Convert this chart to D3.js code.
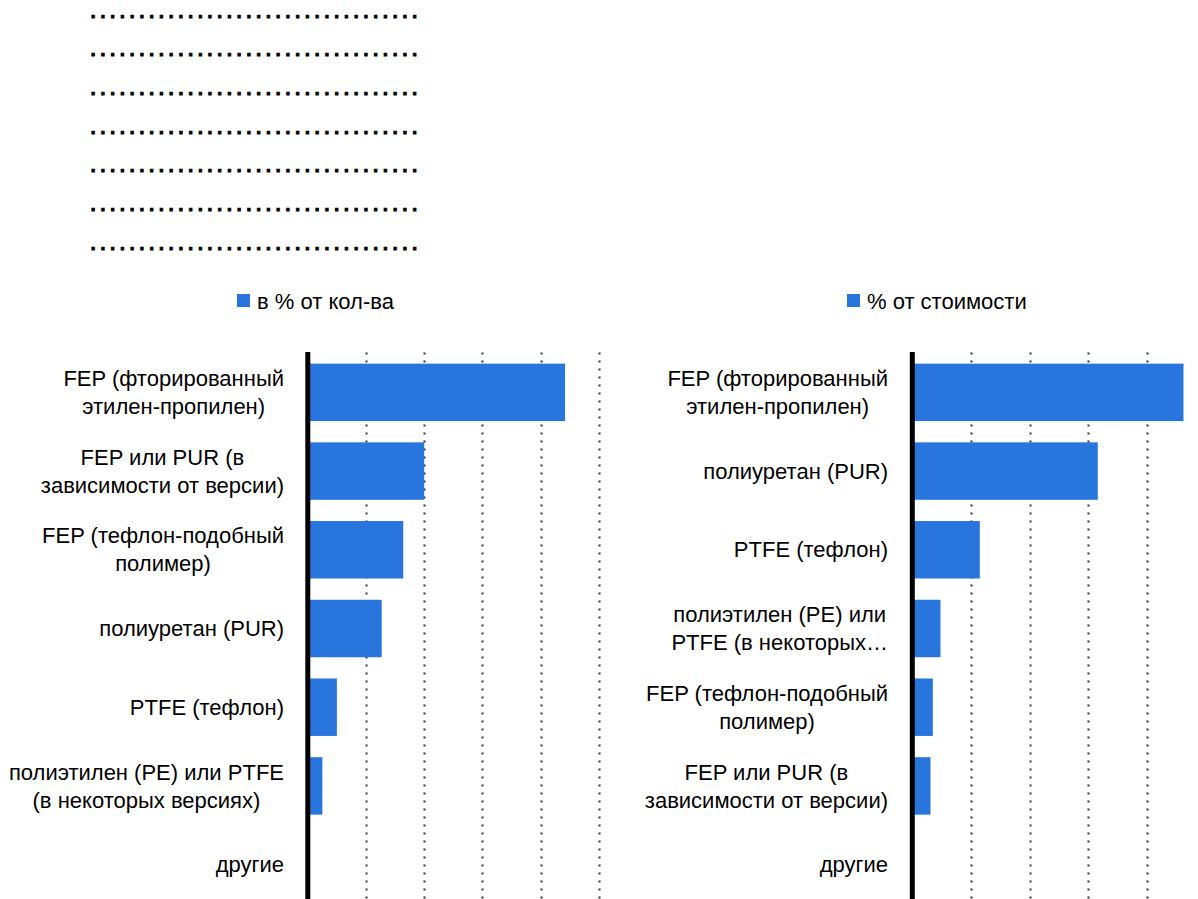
<!DOCTYPE html>
<html>
<head>
<meta charset="utf-8">
<script src="https://cdn.jsdelivr.net/npm/d3@7"></script>
<style>
  html, body { margin: 0; padding: 0; background: #fff; }
  svg { display: block; font-family: "Liberation Sans", Arial, sans-serif; }
</style>
</head>
<body>
<svg id="chart" width="1198" height="899"></svg>
<script>
// ---- data ----
const titleLines = [
  "..................................",
  "..................................",
  "..................................",
  "..................................",
  "..................................",
  "..................................",
  ".................................."
];
const seriesNames = ["в % от кол-ва", "% от стоимости"];
const categoriesLeft = [
  "FEP (фторированный\nэтилен-пропилен)",
  "FEP или PUR (в\nзависимости от версии)",
  "FEP (тефлон-подобный\nполимер)",
  "полиуретан (PUR)",
  "PTFE (тефлон)",
  "полиэтилен (PE) или PTFE\n(в некоторых версиях)",
  "другие"
];
const valuesLeft = [44.2, 20.0, 16.4, 12.7, 5.0, 2.5, 0];
const categoriesRight = [
  "FEP (фторированный\nэтилен-пропилен)",
  "полиуретан (PUR)",
  "PTFE (тефлон)",
  "полиэтилен (PE) или\nPTFE (в некоторых…",
  "FEP (тефлон-подобный\nполимер)",
  "FEP или PUR (в\nзависимости от версии)",
  "другие"
];
const valuesRight = [46.2, 31.6, 11.5, 4.8, 3.5, 3.1, 0];
const gridTicks = [10, 20, 30, 40, 50];
const xDomain = [0, 50];

// ---- drawing ----
const svg = d3.select("#chart");
const barColor = "#2876dd";
const fontSize = 22;

// dotted title placeholder lines
svg.append("g").selectAll("text")
  .data(titleLines)
  .join("text")
  .attr("x", 90.5)
  .attr("y", (d, i) => 17.6 + i * 38.7)
  .attr("font-size", 19)
  .attr("font-weight", "bold")
  .attr("letter-spacing", 4.46)
  .attr("fill", "#000")
  .attr("stroke", "#000")
  .attr("stroke-width", 0.8)
  .text(d => d);

function panel(cfg) {
  const g = svg.append("g");
  const x = d3.scaleLinear().domain(xDomain).range([cfg.x0, cfg.x0 + cfg.unit * 50]);
  const y = d3.scaleBand().domain(cfg.categories).range([353, 904])
    .paddingInner(0.27).paddingOuter(0.135);

  // gridlines
  g.append("g").selectAll("line")
    .data(gridTicks)
    .join("line")
    .attr("x1", d => Math.round(x(d)) + 0.5)
    .attr("x2", d => Math.round(x(d)) + 0.5)
    .attr("y1", 352.5)
    .attr("y2", 899)
    .attr("stroke", "#333")
    .attr("stroke-width", 2)
    .attr("stroke-dasharray", "2,6");

  // bars
  g.append("g").selectAll("rect")
    .data(cfg.categories.map((c, i) => ({ c, v: cfg.values[i] })))
    .join("rect")
    .attr("x", x(0))
    .attr("y", d => y(d.c))
    .attr("width", d => Math.max(0, x(d.v) - x(0)))
    .attr("height", y.bandwidth())
    .attr("fill", barColor);

  // axis line
  g.append("line")
    .attr("x1", x(0)).attr("x2", x(0))
    .attr("y1", 352).attr("y2", 899)
    .attr("stroke", "#000").attr("stroke-width", 5);

  // category labels (multi-line, centered lines, block right aligned)
  cfg.categories.forEach(c => {
    const lines = c.split("\n");
    const cy = y(c) + y.bandwidth() / 2;
    const t = g.append("text")
      .attr("font-size", fontSize)
      .attr("fill", "#000")
      .attr("text-anchor", "middle");
    const lh = 28;
    const spans = lines.map((ln, i) => t.append("tspan")
      .attr("y", cy + (i - (lines.length - 1) / 2) * lh + fontSize * 0.35)
      .text(ln));
    const maxW = d3.max(spans, s => s.node().getComputedTextLength());
    spans.forEach(s => s.attr("x", cfg.labelRight - maxW / 2));
  });

  // legend
  const lg = g.append("g");
  lg.append("rect")
    .attr("x", cfg.legendX).attr("y", 294)
    .attr("width", 13).attr("height", 13)
    .attr("fill", barColor);
  lg.append("text")
    .attr("x", cfg.legendX + 20).attr("y", 308.5)
    .attr("font-size", 22)
    .attr("fill", "#000")
    .text(cfg.name);
}

panel({ x0: 307.8, unit: 5.82, categories: categoriesLeft, values: valuesLeft,
        labelRight: 284, legendX: 237, name: seriesNames[0] });
panel({ x0: 912.3, unit: 5.87, categories: categoriesRight, values: valuesRight,
        labelRight: 888, legendX: 847, name: seriesNames[1] });
</script>
</body>
</html>
